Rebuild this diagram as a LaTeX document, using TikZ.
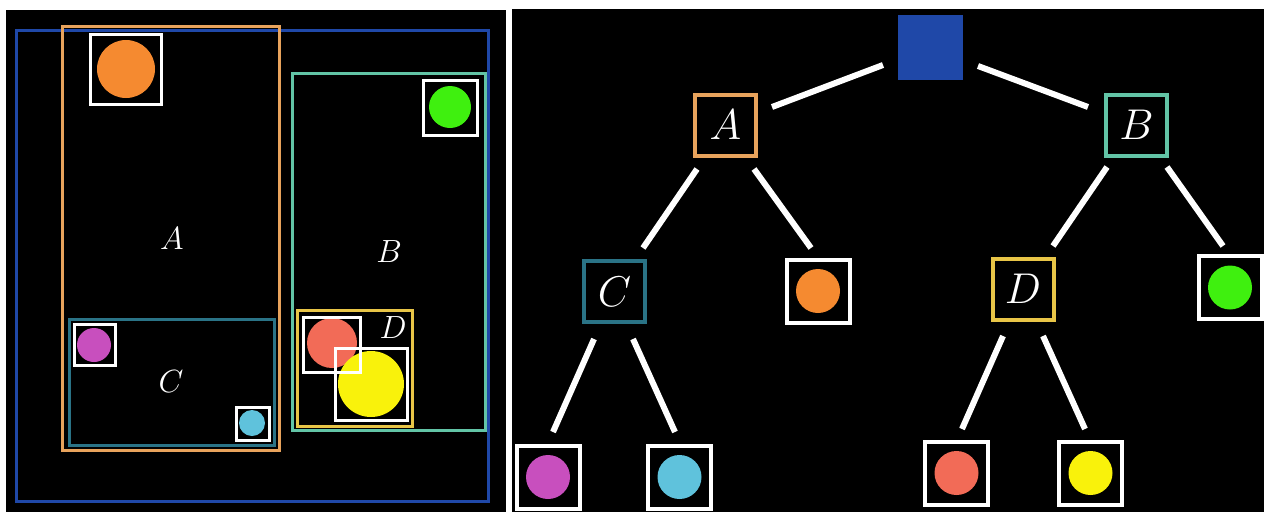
\documentclass[tikz,border=0pt]{standalone}
\usepackage{graphicx}
\definecolor{regblue}{HTML}{1F48A8}
\definecolor{regorange}{HTML}{E8A35C}
\definecolor{regmint}{HTML}{62C4A6}
\definecolor{regteal}{HTML}{2A7386}
\definecolor{reggold}{HTML}{E8C547}
\definecolor{ptorange}{HTML}{F58A30}
\definecolor{ptgreen}{HTML}{3FF00F}
\definecolor{ptred}{HTML}{F26B57}
\definecolor{ptyellow}{HTML}{F9F20B}
\definecolor{ptmagenta}{HTML}{C84FBE}
\definecolor{ptcyan}{HTML}{5FC2DC}
% labels at arbitrary sizes, scaled from \Huge (24.88pt)
\newcommand{\regionlabel}[1]{\scalebox{1.29}{\Huge$#1$}}
\newcommand{\treelabel}[1]{\scalebox{1.73}{\Huge$#1$}}
\tikzset{
  region/.style={line width=3pt},
  smallbox/.style={draw=white, line width=3pt},
  boxlabel/.style={text=white, inner sep=0pt},
  treenode/.style={rectangle, line width=4pt, minimum size=61pt, inner sep=0pt,
    text=white},
  leafnode/.style={rectangle, draw=white, line width=4pt, minimum size=63pt, inner sep=0pt},
  edge/.style={draw=white, line width=6pt}
}
\begin{document}
\begin{tikzpicture}[x=1pt, y=-1pt]
% canvas
\fill[white] (0,0) rectangle (1264,512);
\useasboundingbox (0,0) rectangle (1264,512);
\fill[black] (6,10) rectangle (506,512);
\fill[black] (512,9) rectangle (1264,512);

% ---------- bounding-box view ----------
\draw[region, regblue] (16.5,30) rectangle (488,501);
\draw[region, regorange] (62.5,26) rectangle (279.5,450);
\draw[region, regmint] (292.5,73.5) rectangle (485,430);
\draw[region, regteal] (69,319) rectangle (274,445);
\draw[region, reggold] (297,310) rectangle (412,426);

% points and their boxes
\fill[ptorange] (126,69) circle (29pt);
\draw[smallbox] (90.5,34.5) rectangle (161,104);
\fill[ptgreen] (450,107) circle (21pt);
\draw[smallbox] (423,80) rectangle (477,135);
\fill[ptmagenta] (94,345) circle (17pt);
\draw[smallbox] (74,324) rectangle (115,365);
\fill[ptcyan] (252,423) circle (13pt);
\draw[smallbox] (236,407) rectangle (269,440);
\fill[ptred] (332,343) circle (25pt);
\fill[ptyellow] (371,384) circle (33pt);
\draw[smallbox] (303,317) rectangle (360,372);
\draw[smallbox] (335,348) rectangle (407,420);

\node[boxlabel] (lA) at (172,239) {\regionlabel{A}};
\node[boxlabel] (lB) at (389,252) {\regionlabel{B}};
\node[boxlabel] (lC) at (171,382) {\regionlabel{C}};
\node[boxlabel] (lD) at (393,328) {\regionlabel{D}};

% ---------- tree view ----------
\node[rectangle, fill=regblue, minimum size=65pt, inner sep=0pt] (R) at (930.5,47) {};
\node[treenode, draw=regorange] (A) at (725.5,125) {\treelabel{A}};
\node[treenode, draw=regmint] (B) at (1136.5,125) {\treelabel{B}};
\node[treenode, draw=regteal] (C) at (614.5,291.5) {\treelabel{C}};
\node[treenode, draw=reggold] (D) at (1023,289) {\treelabel{D}};

\node[leafnode] (O) at (818,291) {};
\node[leafnode] (G) at (1230,287.5) {};
\node[leafnode] (M) at (548,477) {};
\node[leafnode] (Cy) at (679.5,477) {};
\node[leafnode] (Rd) at (956.5,473) {};
\node[leafnode] (Y) at (1090.5,473) {};
\fill[ptorange] (O.center) circle (22pt);
\fill[ptgreen] (G.center) circle (22pt);
\fill[ptmagenta] (M.center) circle (22pt);
\fill[ptcyan] (Cy.center) circle (22pt);
\fill[ptred] (Rd.center) circle (22pt);
\fill[ptyellow] (Y.center) circle (22pt);

\draw[edge] ([shift={(-47.5,18)}]R.center) -- ([shift={(46.5,-18)}]A.center);
\draw[edge] ([shift={(47.5,19)}]R.center) -- ([shift={(-48.5,-18)}]B.center);
\draw[edge] ([shift={(-28.5,44)}]A.center) -- ([shift={(28.5,-43.5)}]C.center);
\draw[edge] ([shift={(28.5,44)}]A.center) -- ([shift={(-7,-43)}]O.center);
\draw[edge] ([shift={(-29.5,42)}]B.center) -- ([shift={(30,-43)}]D.center);
\draw[edge] ([shift={(30.5,42)}]B.center) -- ([shift={(-7,-41.5)}]G.center);
\draw[edge] ([shift={(-20.5,47.5)}]C.center) -- ([shift={(5,-45)}]M.center);
\draw[edge] ([shift={(18.5,47.5)}]C.center) -- ([shift={(-4.5,-45)}]Cy.center);
\draw[edge] ([shift={(-20,47)}]D.center) -- ([shift={(5.5,-44)}]Rd.center);
\draw[edge] ([shift={(20,47)}]D.center) -- ([shift={(-5.5,-44)}]Y.center);
\end{tikzpicture}
\end{document}
